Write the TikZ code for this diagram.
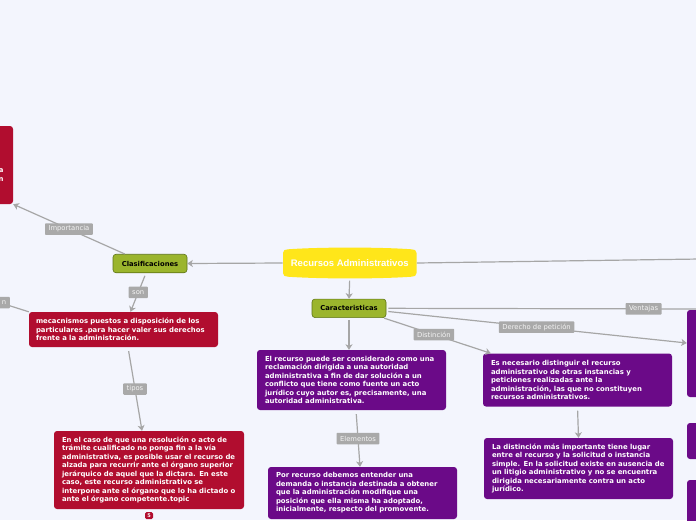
\documentclass[tikz,border=0pt]{standalone}
\usepackage{fontspec}
\usetikzlibrary{arrows.meta}
\newfontfamily\dejavu{DejaVu Sans}
\newfontfamily\libsans{Liberation Sans}
\definecolor{bgc}{HTML}{F3F5FD}
\definecolor{redc}{HTML}{B10D2F}
\definecolor{purc}{HTML}{6B0A88}
\definecolor{grnc}{HTML}{9BB52D}
\definecolor{grnd}{HTML}{5E7417}
\definecolor{yelc}{HTML}{FFE61A}
\definecolor{linec}{HTML}{A6A6A6}
\definecolor{labc}{HTML}{A9A9A9}
\definecolor{labt}{HTML}{F4F4F4}
\tikzset{
  conn/.style={draw=linec, line width=1.2pt},
  arr/.style={-{Stealth[length=5.5pt,width=7pt,inset=1.5pt]}},
  lab/.style={fill=labc, text=labt, font=\dejavu\fontsize{6.8}{8}\selectfont, inner xsep=3.5pt, inner ysep=0pt, minimum height=11.5pt, rounded corners=0.8pt},
  boxbase/.style={rounded corners=3pt, text=white, font=\dejavu\bfseries\fontsize{6.9}{8.5}\selectfont, align=left, inner sep=0pt},
  redbox/.style={boxbase, fill=redc},
  purbox/.style={boxbase, fill=purc},
  ftext/.style={text=white, font=\dejavu\bfseries\fontsize{6.9}{8.5}\selectfont, inner sep=0pt},
  greenbox/.style={fill=grnc, draw=grnd, line width=0.6pt, rounded corners=3pt, font=\dejavu\bfseries\fontsize{6.8}{8}\selectfont, minimum width=74pt, minimum height=18.5pt, inner sep=0pt},
  badge/.style={fill=redc, text=white, rounded corners=1.5pt, minimum width=8pt, minimum height=7pt, inner sep=0pt, font=\dejavu\bfseries\fontsize{5}{5}\selectfont},
}
\begin{document}
\begin{tikzpicture}[x=1pt,y=-1pt]
\useasboundingbox (0,0) rectangle (696,520);
\clip (0,0) rectangle (696,520);
\fill[bgc] (0,0) rectangle (696,520);

% central node shape
\fill[yelc] (283,253) .. controls (283,250) and (285,249.5) .. (288,249.3)
  .. controls (320,247) and (380,247) .. (411.5,249.3)
  .. controls (414.5,249.5) and (416.5,250) .. (416.5,253)
  -- (416.5,273)
  .. controls (416.5,276) and (414.5,276.5) .. (411.5,276.7)
  .. controls (380,279) and (320,279) .. (288,276.7)
  .. controls (285,276.5) and (283,276) .. (283,273) -- cycle;
\node[text=white, font=\libsans\bfseries\fontsize{9.5}{11}\selectfont, minimum width=134pt, minimum height=29pt, inner sep=0pt] (ra) at (349.75,263) {Recursos Administrativos};

% green nodes
\node[greenbox] (clas) at (150,263.5) {Clasificaciones};
\node[greenbox] (car) at (349,308.3) {Caracteristicas};

% red nodes
\node[redbox, minimum width=103pt, minimum height=78pt] (imp) at (-38.5,165) {};
\node[ftext, anchor=base east] (frA) at (3.8,172) {a};
\node[ftext, anchor=base east] (frN) at (3.8,181) {n};

\node[redbox, minimum width=189pt, minimum height=35pt, text width=175pt] (red1) at (123.5,329.5)
 {mecacnismos puestos a disposición de los\\ particulares .para hacer valer sus derechos\\ frente a la administración.};
\node[redbox, minimum width=190pt, minimum height=78pt, text width=174pt] (red2) at (149,470)
 {En el caso de que una resolución o acto de\\ trámite cualificado no ponga fin a la vía\\ administrativa, es posible usar el recurso de\\ alzada para recurrir ante el órgano superior\\ jerárquico de aquel que la dictara. En este\\ caso, este recurso administrativo se\\ interpone ante el órgano que lo ha dictado o\\ ante el órgano competente.topic};
\node[badge] (b5) at (149,515.5) {5};

% purple nodes
\node[purbox, minimum width=189pt, minimum height=60pt, text width=173pt] (pur1) at (351.5,380)
 {El recurso puede ser considerado como una\\ reclamación dirigida a una autoridad\\ administrativa a fin de dar solución a un\\ conflicto que tiene como fuente un acto\\ jurídico cuyo autor es, precisamente, una\\ autoridad administrativa.};
\node[purbox, minimum width=189pt, minimum height=52pt, text width=173pt] (pur4) at (362.5,493)
 {Por recurso debemos entender una\\ demanda o instancia destinada a obtener\\ que la administración modifique una\\ posición que ella misma ha adoptado,\\ inicialmente, respecto del promovente.};
\node[purbox, minimum width=189pt, minimum height=53pt, text width=173pt] (pur2) at (577.5,380)
 {Es necesario distinguir el recurso\\ administrativo de otras instancias y\\ peticiones realizadas ante la\\ administración, las que no constituyen\\ recursos administrativos.};
\node[purbox, minimum width=189pt, minimum height=61pt, text width=173pt] (pur3) at (578.5,468.5)
 {La distinción más importante tiene lugar\\ entre el recurso y la solicitud o instancia\\ simple. En la solicitud existe en ausencia de\\ un litigio administrativo y no se encuentra\\ dirigida necesariamente contra un acto\\ jurídico.};
\node[purbox, minimum width=60pt, minimum height=87pt] (r1) at (717,353.5) {};
\node[purbox, minimum width=60pt, minimum height=36pt] (r2) at (717,441) {};
\node[purbox, minimum width=60pt, minimum height=50pt] (r3) at (717,505) {};

% off-canvas coordinates
\coordinate (offR) at (700,259);
\coordinate (offV) at (700,309);
\coordinate (offL) at (-40,290);

% connectors
\draw[conn, arr] (ra.west) -- (clas.east);
\draw[conn] (ra.east) -- (offR);
\draw[conn, arr, shorten <=3pt] (ra.south) -- (car.north);
\draw[conn, arr] ([xshift=12pt]clas.north west) -- (imp.south east)
  node[lab, pos=0.5] {Importancia};
\draw[conn, arr, shorten <=3pt] ([xshift=-4pt]clas.south) -- ([xshift=7pt]red1.north)
  node[lab, pos=0.5] {son};
\draw[conn] (offL) -- (red1.north west);
\node[lab, anchor=east] (labn) at (10,302.5) {n};
\draw[conn, arr, shorten <=4pt] ([xshift=4.5pt]red1.south) -- ([xshift=-7pt]red2.north)
  node[lab, pos=0.5] {tipos};
\draw[conn, arr, shorten <=2pt] (car.south) -- (car.south |- pur1.north);
\draw[conn, arr, shorten <=1pt] ([xshift=-3pt]car.south east) -- ([xshift=8pt]pur2.north west)
  node[lab, pos=0.47] {Distinción};
\draw[conn, arr, shorten <=2pt] ([yshift=-3pt]car.east) -- ([yshift=10.5pt]r1.west)
  node[lab, pos=0.5] {Derecho de petición};
\draw[conn, shorten <=2pt] (car.east) -- (offV)
  node[lab, pos=0.82] {Ventajas};
\draw[conn, arr, shorten <=4pt] ([xshift=4.5pt]pur1.south) -- ([xshift=-2.5pt]pur4.north)
  node[lab, pos=0.5] {Elementos};
\draw[conn, arr, shorten <=4pt] (pur2.south) -- (pur3.north);
\end{tikzpicture}
\end{document}
